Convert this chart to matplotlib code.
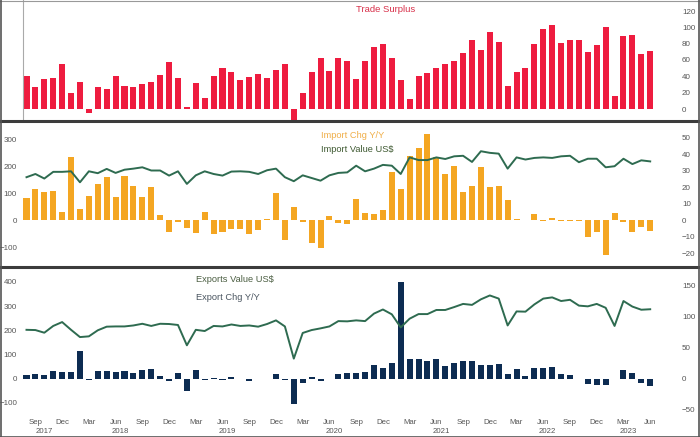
"""China trade panel: surplus, imports and exports (USD bn, % y/y)."""

import matplotlib

matplotlib.use("Agg")
import matplotlib.pyplot as plt
import numpy as np
import pandas as pd
from matplotlib.lines import Line2D

months = pd.period_range("2017-08", "2023-06", freq="M")

trade_surplus = [
    40, 27, 37, 38, 55, 19, 33, -5, 27, 24, 41, 28, 27, 31, 33, 42, 58, 38,
    3, 32, 13, 41, 50, 45, 35, 39, 43, 38, 48, 55, -13, 20, 45, 63, 47, 62,
    59, 37, 59, 76, 79, 62, 35, 12, 40, 44, 50, 55, 59, 68, 85, 72, 94, 82,
    28, 45, 50, 79, 98, 103, 81, 84, 85, 70, 78, 100, 16, 89, 91, 67, 71,
]
import_chg = [
    13.5, 19, 17, 18, 5, 38, 7, 15, 22, 26, 14, 27, 21, 14, 20, 3, -7, -1,
    -4.5, -7.5, 5, -8, -7, -5, -5.5, -8, -6, 1, 16.5, -12, 8, -1, -14, -17,
    2.5, -1.5, -2, 13, 4.5, 4, 6.5, 29, 19, 39, 44, 52, 38, 28, 33, 17, 21,
    32, 20, 21, 12, 0.8, 0.2, 3.6, -0.3, 1.4, -0.2, -0.2, -0.5, -10, -7,
    -21, 4.5, -1.2, -7, -4, -6.5,
]
import_value = [
    161, 173, 156, 181, 181, 183, 142, 183, 176, 192, 177, 189, 193, 198,
    186, 186, 167, 183, 136, 168, 183, 173, 167, 182, 183, 181, 173, 187,
    193, 161, 146, 168, 158, 148, 168, 177, 179, 204, 183, 193, 207, 204,
    173, 235, 225, 225, 235, 229, 239, 241, 218, 258, 252, 249, 193, 235,
    227, 233, 235, 233, 239, 241, 217, 230, 230, 198, 202, 230, 210, 224, 220,
]
export_chg = [
    5.4, 8, 6.5, 12, 11, 11, 44, -2.7, 12, 12, 11, 12, 10, 14.5, 15.5, 5,
    -4, 9, -20.5, 14.5, -2.7, 1.3, -1.3, 3.5, -1, -3, -0.9, -1.1, 8, -2.5,
    -40, -6.6, 3.5, -3.3, -0.5, 7.5, 9, 10, 11, 22, 18, 25, 156, 31, 32, 29,
    32, 20, 26, 28, 28, 22.5, 21.5, 24, 7, 15, 4, 17, 18, 19, 7, 5.6, -0.5,
    -8.7, -9.9, -10, -0.6, 14.8, 8.5, -7.5, -12.4,
]
export_value = [
    202, 201, 190, 218, 234, 202, 172, 175, 200, 215, 216, 216, 220, 227,
    218, 227, 226, 222, 138, 202, 197, 218, 216, 224, 218, 220, 215, 226,
    241, 216, 83, 189, 201, 208, 216, 238, 237, 241, 238, 269, 286, 266,
    212, 248, 267, 267, 284, 284, 296, 309, 305, 328, 344, 331, 220, 278,
    277, 307, 331, 336, 321, 326, 302, 299, 309, 293, 218, 321, 298, 285, 287,
]

RED = "#ee1c3f"
ORANGE = "#f4a622"
GREEN = "#2e6b50"
NAVY = "#0d2c52"
LABEL = "#555555"
FONT = "Liberation Sans"

W, H = 700, 437
X0_PX, PX_PER_MONTH = 26.5, 8.91


def _box(top, bottom):
    return [0, 1 - bottom / H, 1, (bottom - top) / H]


def _ylim(top, bottom, zero_px, px_per_unit):
    return (-(bottom - zero_px) / px_per_unit, (zero_px - top) / px_per_unit)


def _style(ax, side, ticks, pad_px):
    for spine in ax.spines.values():
        spine.set_visible(False)
    ax.set_yticks(ticks)
    if side == "right":
        ax.yaxis.tick_right()
    else:
        ax.yaxis.tick_left()
    ax.tick_params(axis="y", length=0, pad=-pad_px * 0.72, labelsize=5.8,
                   labelcolor=LABEL)
    for lab in ax.get_yticklabels():
        lab.set_fontfamily(FONT)
    ax.set_xticks([])
    ax.set_facecolor("none")


x = np.arange(len(months))
xlim = (-X0_PX / PX_PER_MONTH, (W - X0_PX) / PX_PER_MONTH)
bar_w = 0.68

fig = plt.figure(figsize=(7, 4.37), dpi=100)

# top panel: trade surplus
ax_top = fig.add_axes(_box(0, 121))
ax_top.bar(x, trade_surplus, width=bar_w, color=RED)
ax_top.set_xlim(xlim)
ax_top.set_ylim(_ylim(0, 121, 109, 98 / 120))
_style(ax_top, "right", range(0, 121, 20), 18)
ax_top.axvline((23 - X0_PX) / PX_PER_MONTH, color="#aaaaaa", lw=0.8)

# middle panel: imports (bars on the right scale, value line on the left)
ax_imp = fig.add_axes(_box(121, 267))
ax_imp_val = ax_imp.twinx()
ax_imp.bar(x, import_chg, width=bar_w, color=ORANGE)
ax_imp_val.plot(x, import_value, color=GREEN, lw=1.4)
for ax in (ax_imp, ax_imp_val):
    ax.set_xlim(xlim)
ax_imp.set_ylim(_ylim(121, 267, 220.3, 1.653))
ax_imp_val.set_ylim(_ylim(121, 267, 220.3, 0.2677))
_style(ax_imp, "right", range(-20, 51, 10), 18)
_style(ax_imp_val, "left", range(-100, 301, 100), 17)

# bottom panel: exports
ax_exp = fig.add_axes(_box(267, 437))
ax_exp_val = ax_exp.twinx()
ax_exp.bar(x, export_chg, width=bar_w, color=NAVY)
ax_exp_val.plot(x, export_value, color=GREEN, lw=1.4)
for ax in (ax_exp, ax_exp_val):
    ax.set_xlim(xlim)
ax_exp.set_ylim(_ylim(267, 437, 378.7, 0.62))
ax_exp_val.set_ylim(_ylim(267, 437, 378.7, 0.242))
_style(ax_exp, "right", range(-50, 151, 50), 18)
_style(ax_exp_val, "left", range(-100, 401, 100), 17)

# month ticks every quarter, year labels centred on each year's months
quarter = [i for i, m in enumerate(months) if m.month in (3, 6, 9, 12)]
years = sorted(set(m.year for m in months))
year_pos = [np.mean([i for i, m in enumerate(months) if m.year == y]) for y in years]
ax_exp.set_xticks(quarter)
ax_exp.set_xticklabels([months[i].strftime("%b") for i in quarter])
ax_exp.set_xticks(year_pos, minor=True)
ax_exp.set_xticklabels([str(y) for y in years], minor=True)
ax_exp.tick_params(axis="x", which="major", length=0, pad=-12.8,
                   labelsize=5.6, labelcolor=LABEL)
ax_exp.tick_params(axis="x", which="minor", length=0, pad=-6.6,
                   labelsize=5.6, labelcolor=LABEL)
for lab in ax_exp.get_xticklabels(which="both"):
    lab.set_fontfamily(FONT)

# series labels
fig.text(356 / W, 1 - 10 / H, "Trade Surplus", color="#d8304a", fontsize=6.8,
         family=FONT, va="center")
fig.text(321 / W, 1 - 135 / H, "Import Chg Y/Y", color="#f0ae48",
         fontsize=6.7, family=FONT, va="center")
fig.text(321 / W, 1 - 149 / H, "Import Value US$", color="#3f5a32",
         fontsize=6.7, family=FONT, va="center")
fig.text(196 / W, 1 - 280 / H, "Exports Value US$", color="#4b5e42",
         fontsize=6.7, family=FONT, va="center")
fig.text(196 / W, 1 - 298 / H, "Export Chg Y/Y", color="#4a5560",
         fontsize=6.7, family=FONT, va="center")

# frame and panel separators
for y_px, lw, col in [(121, 2.2, "#3c3c3c"), (267, 2.2, "#3c3c3c"),
                      (436.5, 1.2, "#555555"), (0.5, 0.8, "#999999")]:
    fig.add_artist(Line2D([0, 1], [1 - y_px / H] * 2, color=col, lw=lw,
                          transform=fig.transFigure))
for x_px in (0.6, 699.4):
    fig.add_artist(Line2D([x_px / W] * 2, [0, 1], color="#555555", lw=1.2,
                          transform=fig.transFigure))

fig.savefig("out.png", dpi=100)
plt.close(fig)
